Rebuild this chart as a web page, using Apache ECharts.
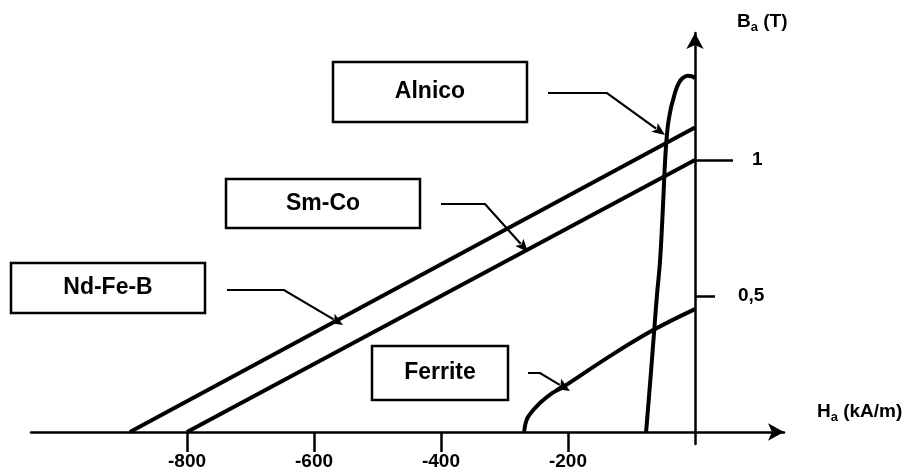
<!DOCTYPE html>
<html><head><meta charset="utf-8">
<script src="https://cdn.jsdelivr.net/npm/echarts@6/dist/echarts.min.js"></script>
<style>html,body{margin:0;padding:0;background:#fff}#c{width:916px;height:472px}</style>
</head><body><div id="c"></div>
<script>
// ---- data ----
const xTickValues = [-800, -600, -400, -200];
const yTickOne = [1];
const yTickHalf = [0.5];
const materialNames = ['Alnico', 'Sm-Co', 'Nd-Fe-B', 'Ferrite'];
const ndfebCurve = [[-890, 0], [0, 1.12]];
const smcoCurve = [[-800, 0], [0, 1.0]];
const alnicoCurve = [[-77, 0], [-70, 0.2], [-64, 0.38], [-60, 0.5], [-55, 0.63], [-50, 0.85], [-47, 1.0], [-43, 1.12], [-38, 1.19], [-34, 1.225], [-30, 1.258], [-25, 1.285], [-19, 1.302], [-12, 1.31], [-5, 1.308], [0, 1.30]];
const ferriteCurve = [[-269, 0], [-267, 0.03], [-263, 0.055], [-255, 0.08], [-244, 0.107], [-225, 0.143], [-208, 0.165], [-140, 0.27], [-68, 0.372], [0, 0.452]];

const FONT = '"Liberation Sans", Arial, sans-serif';
const chart = echarts.init(document.getElementById('c'));

function arrow(pts, headLen, headW) {
  const n = pts.length;
  const [x1, y1] = pts[n - 2], [x2, y2] = pts[n - 1];
  const dx = x2 - x1, dy = y2 - y1, L = Math.hypot(dx, dy), ux = dx / L, uy = dy / L;
  const bx = x2 - ux * headLen, by = y2 - uy * headLen;
  const linePts = pts.slice(0, n - 1).concat([[bx + ux * 2, by + uy * 2]]);
  return [
    {type: 'polyline', z: 10, shape: {points: linePts}, style: {stroke: '#000', lineWidth: 2.2, fill: null}},
    {type: 'polygon', z: 10, shape: {points: [[x2, y2], [bx - uy * headW, by + ux * headW], [bx + ux * 3, by + uy * 3], [bx + uy * headW, by - ux * headW]]}, style: {fill: '#000'}}
  ];
}
function box(x, y, w, h, text) {
  return [
    {type: 'rect', z: 10, shape: {x: x, y: y, width: w, height: h}, style: {fill: '#fff', stroke: '#000', lineWidth: 2.5}},
    {type: 'text', z: 11, x: x + w / 2, y: y + h / 2, style: {text: text, fontFamily: FONT, fontWeight: 'bold', fontSize: 23, fill: '#000', align: 'center', verticalAlign: 'middle'}}
  ];
}

const axisText = {fontFamily: FONT, fontWeight: 'bold', fontSize: 19, color: '#000'};
const lineSeries = (name, data, smooth) => ({
  name: name, type: 'line', data: data, showSymbol: false, smooth: smooth,
  lineStyle: {color: '#000', width: 4}, itemStyle: {color: '#000'}, z: 3
});
const commaFmt = v => String(v).replace('.', ',');

const richName = {
  b: {fontFamily: FONT, fontWeight: 'bold', fontSize: 19, color: '#000', lineHeight: 24},
  s: {fontFamily: FONT, fontWeight: 'bold', fontSize: 13, color: '#000', lineHeight: 20, verticalAlign: 'bottom'}
};

chart.setOption({
  animation: false,
  backgroundColor: '#fff',
  title: [
    {text: '{b|B}{s|a}{b| (T)}', left: 737, top: 10, padding: 0, textStyle: {fontWeight: 'bold', rich: richName}},
    {text: '{b|H}{s|a}{b| (kA/m)}', left: 817, top: 400, padding: 0, textStyle: {fontWeight: 'bold', rich: richName}}
  ],
  grid: {left: 31, right: 132, top: 33, bottom: 28, outerBoundsMode: 'none', containLabel: false},
  xAxis: {
    type: 'value', min: -1045.7, max: 140.2, position: 'bottom', offset: -12,
    splitLine: {show: false},
    axisLine: {onZero: false, lineStyle: {color: '#000', width: 2.5}, symbol: ['none', 'arrow'], symbolSize: [13, 16]},
    axisTick: {customValues: xTickValues, length: 20, lineStyle: {color: '#000', width: 2.5}},
    axisLabel: Object.assign({customValues: xTickValues, margin: 20}, axisText)
  },
  yAxis: [{
    type: 'value', position: 'right', offset: -89, min: -0.044, max: 1.467,
    splitLine: {show: false},
    axisLine: {onZero: false, lineStyle: {color: '#000', width: 2.5}, symbol: ['none', 'arrow'], symbolSize: [13, 16]},
    axisTick: {customValues: yTickHalf, length: 20, lineStyle: {color: '#000', width: 2.5}},
    axisLabel: Object.assign({customValues: yTickHalf, margin: 43, formatter: commaFmt}, axisText)
  }, {
    type: 'value', position: 'right', offset: -89, min: -0.044, max: 1.467,
    splitLine: {show: false},
    axisLine: {show: false, onZero: false},
    axisTick: {customValues: yTickOne, length: 38, lineStyle: {color: '#000', width: 2.5}},
    axisLabel: Object.assign({customValues: yTickOne, margin: 57, formatter: commaFmt}, axisText)
  }],
  series: [
    lineSeries(materialNames[2], ndfebCurve, false),
    lineSeries(materialNames[1], smcoCurve, false),
    lineSeries(materialNames[0], alnicoCurve, 0.4),
    lineSeries(materialNames[3], ferriteCurve, 0.4)
  ],
  graphic: [].concat(
    box(333, 62, 194, 60, materialNames[0]),
    box(226, 179, 194, 49, materialNames[1]),
    box(11, 263, 194, 50, materialNames[2]),
    box(372, 346, 136, 54, materialNames[3]),
    arrow([[548, 93], [607, 93], [665, 135]], 13, 5.5),
    arrow([[441, 204], [485, 204], [528, 252]], 13, 5.5),
    arrow([[227, 290], [284, 290], [343, 325]], 13, 5.5),
    arrow([[528, 373], [540, 373], [570, 391]], 14, 6)
  )
});
</script>
</body></html>
